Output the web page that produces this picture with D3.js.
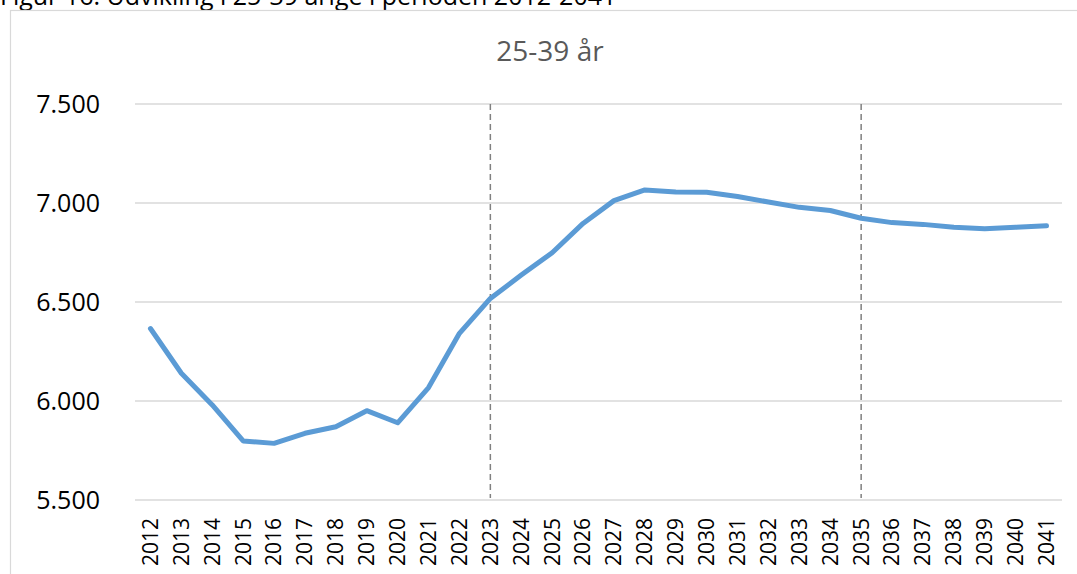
<!DOCTYPE html>
<html>
<head>
<meta charset="utf-8">
<script src="https://cdn.jsdelivr.net/npm/d3@7"></script>
<style>
  body { margin: 0; background: #fff; overflow: hidden; }
  text { font-family: "Open Sans", "Noto Sans", sans-serif; }
</style>
</head>
<body>
<svg id="chart"></svg>
<script>
const years = d3.range(2012, 2042).map(String);
const values = [
  6366, 6140, 5980, 5798, 5786, 5837, 5870, 5951, 5890, 6068,
  6342, 6518, 6636, 6749, 6897, 7012, 7066, 7056, 7054, 7033,
  7005, 6978, 6962, 6923, 6901, 6892, 6877, 6870, 6877, 6885
];
const yTicks = [5500, 6000, 6500, 7000, 7500];
const markerYears = ['2023', '2035'];
const caption = 'Figur 16: Udvikling i 25-39 årige i perioden 2012-2041';
const title = '25-39 år';

const width = 1077;
const height = 574;
const plot = { left: 135, right: 1062, top: 104, bottom: 500 };

const svg = d3.select('#chart')
  .attr('width', width)
  .attr('height', height);

// caption, cut off by the top of the page as in the source
svg.append('text')
  .attr('x', 0)
  .attr('y', 5)
  .attr('font-size', 25)
  .attr('fill', '#000')
  .text(caption);

// chart area border
svg.append('rect')
  .attr('x', 10.5)
  .attr('y', 10.5)
  .attr('width', width)
  .attr('height', height)
  .attr('fill', 'none')
  .attr('stroke', '#d9d9d9')
  .attr('stroke-width', 1.2);

svg.append('text')
  .attr('x', 550)
  .attr('y', 61)
  .attr('text-anchor', 'middle')
  .attr('font-size', 28)
  .attr('fill', '#595959')
  .text(title);

const x = d3.scaleBand()
  .domain(years)
  .range([plot.left, plot.right]);

const y = d3.scaleLinear()
  .domain([5500, 7500])
  .range([plot.bottom, plot.top]);

const cx = d => x(d) + x.bandwidth() / 2;

// gridlines
svg.append('g')
  .selectAll('line')
  .data(yTicks)
  .join('line')
  .attr('x1', plot.left)
  .attr('x2', plot.right)
  .attr('y1', d => y(d))
  .attr('y2', d => y(d))
  .attr('stroke', '#d9d9d9')
  .attr('stroke-width', 1.5);

// y labels
svg.append('g')
  .selectAll('text')
  .data(yTicks)
  .join('text')
  .attr('x', 100)
  .attr('y', d => y(d))
  .attr('dy', '0.35em')
  .attr('text-anchor', 'end')
  .attr('font-size', 25)
  .attr('fill', '#000')
  .text(d => d3.format(',')(d).replace(',', '.'));

// x labels, rotated
svg.append('g')
  .selectAll('text')
  .data(years)
  .join('text')
  .attr('transform', d => `translate(${cx(d)}, ${plot.bottom + 18}) rotate(-90)`)
  .attr('dy', '0.35em')
  .attr('text-anchor', 'end')
  .attr('font-size', 21)
  .attr('fill', '#000')
  .text(d => d);

// dashed period markers
svg.append('g')
  .selectAll('line')
  .data(markerYears)
  .join('line')
  .attr('x1', d => cx(d))
  .attr('x2', d => cx(d))
  .attr('y1', plot.top)
  .attr('y2', plot.bottom - 2)
  .attr('stroke', '#808080')
  .attr('stroke-width', 1.5)
  .attr('stroke-dasharray', '6,4');

const line = d3.line()
  .x((d, i) => cx(years[i]))
  .y(d => y(d));

svg.append('path')
  .datum(values)
  .attr('d', line)
  .attr('fill', 'none')
  .attr('stroke', '#5b9bd5')
  .attr('stroke-width', 5)
  .attr('stroke-linejoin', 'round')
  .attr('stroke-linecap', 'round');
</script>
</body>
</html>
